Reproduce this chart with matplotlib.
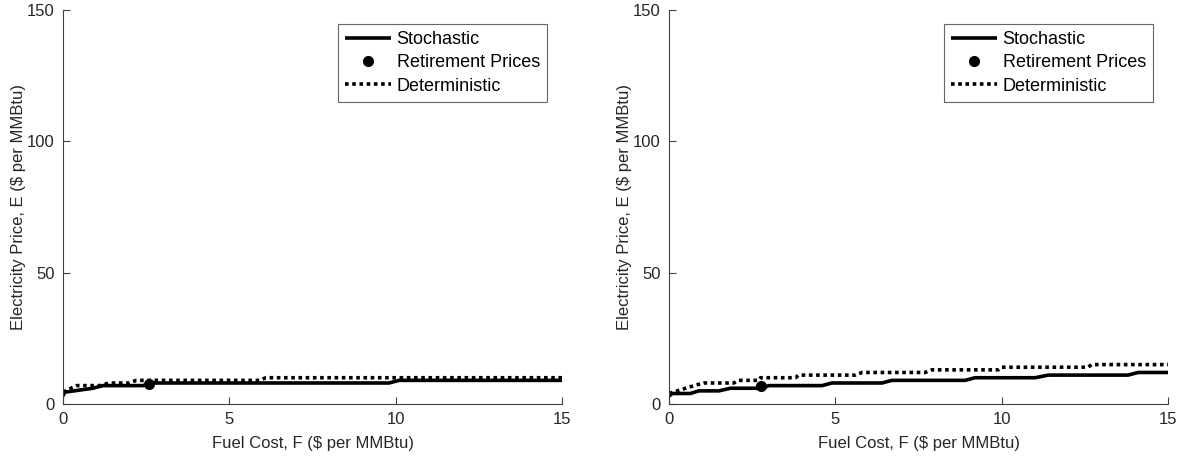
import matplotlib
matplotlib.use("Agg")
import matplotlib.pyplot as plt

plt.rcParams['font.family'] = ['Liberation Sans', 'DejaVu Sans']

# Left panel data
L_stoch_x = [0, 0.05, 0.9, 1.2, 2.4, 2.7, 9.8, 10.1, 15]
L_stoch_y = [3, 4.5, 6, 7, 7, 8, 8, 9, 9]
L_det_x = [0, 0.4, 1.1, 1.4, 2.0, 2.2, 5.9, 6.1, 15]
L_det_y = [4.5, 7, 7, 8, 8, 9, 9, 10, 10]
L_ret_x = [2.6]
L_ret_y = [7.8]

# Right panel data
R_stoch_x = [0, 0.1, 0.64, 0.9, 1.5, 1.85, 2.8, 3.0, 4.6, 4.9, 6.4, 6.7, 8.9, 9.2, 11.0, 11.4, 13.8, 14.1, 15]
R_stoch_y = [3, 4, 4, 5, 5, 6, 6, 7, 7, 8, 8, 9, 9, 10, 10, 11, 11, 12, 12]
R_det_x = [0, 0.75, 1.05, 1.95, 2.1, 2.7, 2.75, 3.8, 3.9, 5.6, 5.8, 7.7, 7.9, 9.9, 10.0, 12.6, 12.7, 15]
R_det_y = [4, 7, 8, 8, 9, 9, 10, 10, 11, 11, 12, 12, 13, 13, 14, 14, 15, 15]
R_ret_x = [2.78]
R_ret_y = [7.0]

x_ticks = [0, 5, 10, 15]
y_ticks = [0, 50, 100, 150]
xlabel = "Fuel Cost, F ($ per MMBtu)"
ylabel = "Electricity Price, E ($ per MMBtu)"

fig = plt.figure(figsize=(11.81, 4.57), dpi=100)
W, H = 1181, 457
axL = fig.add_axes([63 / W, (457 - 404) / H, 499 / W, 394 / H])
axR = fig.add_axes([669 / W, (457 - 404) / H, 499 / W, 394 / H])

grey = '#262626'
panels = [
    (axL, L_stoch_x, L_stoch_y, L_det_x, L_det_y, L_ret_x, L_ret_y),
    (axR, R_stoch_x, R_stoch_y, R_det_x, R_det_y, R_ret_x, R_ret_y),
]
for ax, sx, sy, dx, dy, rx, ry in panels:
    ax.plot(sx, sy, color='black', lw=2.6, solid_capstyle='butt', label='Stochastic')
    ax.plot(rx, ry, 'o', color='black', ms=7, label='Retirement Prices', zorder=5)
    ax.plot(dx, dy, color='black', lw=2.6, linestyle=(0, (1, 1)), label='Deterministic')
    ax.set_xlim(0, 15)
    ax.set_ylim(0, 150)
    ax.set_xticks(x_ticks)
    ax.set_yticks(y_ticks)
    for s in ['top', 'right']:
        ax.spines[s].set_visible(False)
    for s in ['left', 'bottom']:
        ax.spines[s].set_color('#404040')
        ax.spines[s].set_linewidth(0.8)
    ax.tick_params(direction='in', length=5, width=0.8, color='#404040',
                   labelsize=12, labelcolor=grey, pad=6)
    ax.set_xlabel(xlabel, fontsize=12, color=grey, labelpad=6)
    ax.set_ylabel(ylabel, fontsize=12, color=grey, labelpad=1)
    leg = ax.legend(loc='upper right', bbox_to_anchor=(0.97, 0.965), fontsize=13,
                    frameon=True, fancybox=False, edgecolor='#404040',
                    handlelength=2.55, handletextpad=0.3, borderpad=0.4,
                    labelspacing=0.35, borderaxespad=0, markerscale=1.0)
    leg.get_frame().set_linewidth(0.8)

fig.savefig('out.png', dpi=100)
